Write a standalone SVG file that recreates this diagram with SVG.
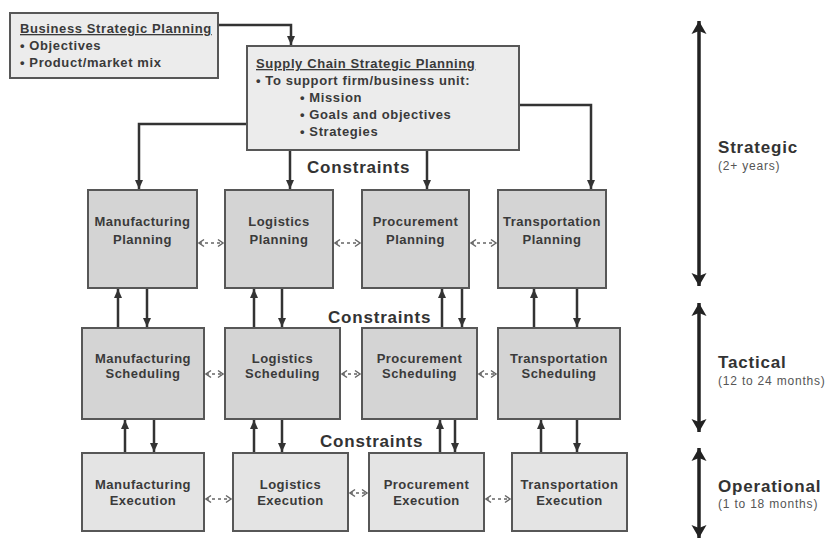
<svg xmlns="http://www.w3.org/2000/svg" width="830" height="538" viewBox="0 0 830 538">
  <style>
    .top { fill: #ececec; stroke: #575757; stroke-width: 2; }
    .plan { fill: #d4d4d4; stroke: #575757; stroke-width: 2; }
    .exec { fill: #e4e4e4; stroke: #575757; stroke-width: 2; }
    text { font-family: "Liberation Sans", Arial, sans-serif; font-weight: bold; fill: #3a3a3a; }
    .hd { font-size: 13px; letter-spacing: 0.6px; text-decoration: underline; }
    .bl { font-size: 13px; letter-spacing: 0.6px; }
    .nd { font-size: 13px; letter-spacing: 0.5px; text-anchor: middle; }
    .big { font-size: 17px; letter-spacing: 0.8px; fill: #333; }
    .sub { font-size: 12px; font-weight: normal; letter-spacing: 0.8px; fill: #555; }
    .link { fill: none; stroke: #333; stroke-width: 2.5; marker-end: url(#head); }
    .peer { fill: none; stroke: #666; stroke-width: 1.5; stroke-dasharray: 3 3; marker-start: url(#chevL); marker-end: url(#chevR); }
    .span { fill: none; stroke: #222; stroke-width: 3.5; marker-start: url(#bigL); marker-end: url(#bigR); }
  </style>
  <defs>
    <marker id="head" markerUnits="userSpaceOnUse" markerWidth="10" markerHeight="10" refX="9" refY="4.5" orient="auto">
      <path d="M0,0.5 L9,4.5 L0,8.5 Z" fill="#333"/>
    </marker>
    <marker id="chevR" markerUnits="userSpaceOnUse" markerWidth="8" markerHeight="10" refX="6" refY="5" orient="auto">
      <path d="M1,1.5 L6,5 L1,8.5" fill="none" stroke="#666" stroke-width="1.5"/>
    </marker>
    <marker id="chevL" markerUnits="userSpaceOnUse" markerWidth="8" markerHeight="10" refX="1" refY="5" orient="auto">
      <path d="M6,1.5 L1,5 L6,8.5" fill="none" stroke="#666" stroke-width="1.5"/>
    </marker>
    <marker id="bigR" markerUnits="userSpaceOnUse" markerWidth="14" markerHeight="16" refX="13" refY="7.5" orient="auto">
      <path d="M0,0 L13,7.5 L0,15 L3,7.5 Z" fill="#222"/>
    </marker>
    <marker id="bigL" markerUnits="userSpaceOnUse" markerWidth="14" markerHeight="16" refX="0" refY="7.5" orient="auto">
      <path d="M13,0 L0,7.5 L13,15 L10,7.5 Z" fill="#222"/>
    </marker>
  </defs>

  <!-- connectors -->
  <g id="connectors">
    <path class="link" d="M218,25 H291 V45"/>
    <path class="link" d="M247,124 H139 V189"/>
    <path class="link" d="M290,150 V189"/>
    <path class="link" d="M427,150 V189"/>
    <path class="link" d="M519,105 H591 V189"/>

    <!-- planning <-> scheduling -->
    <path class="link" d="M118,328 V289"/>
    <path class="link" d="M147,288 V327"/>
    <path class="link" d="M254,328 V289"/>
    <path class="link" d="M282,288 V327"/>
    <path class="link" d="M442,328 V289"/>
    <path class="link" d="M462,288 V327"/>
    <path class="link" d="M534,328 V289"/>
    <path class="link" d="M577,288 V327"/>

    <!-- scheduling <-> execution -->
    <path class="link" d="M125,453 V420"/>
    <path class="link" d="M154,419 V452"/>
    <path class="link" d="M254,453 V420"/>
    <path class="link" d="M282,419 V452"/>
    <path class="link" d="M440,453 V420"/>
    <path class="link" d="M455,419 V452"/>
    <path class="link" d="M541,453 V420"/>
    <path class="link" d="M577,419 V452"/>

    <!-- peer coordination -->
    <path class="peer" d="M199,243 H223"/>
    <path class="peer" d="M335,243 H360"/>
    <path class="peer" d="M471,243 H496"/>
    <path class="peer" d="M206,374 H223"/>
    <path class="peer" d="M342,374 H360"/>
    <path class="peer" d="M479,374 H496"/>
    <path class="peer" d="M206,499 H231"/>
    <path class="peer" d="M350,493 H367"/>
    <path class="peer" d="M486,499 H510"/>

    <!-- time horizons -->
    <path class="span" d="M699,21 V286"/>
    <path class="span" d="M699,303 V432"/>
    <path class="span" d="M699,448 V538"/>
  </g>

  <g id="business-strategic-planning">
    <rect class="top" x="10" y="13" width="208" height="65"/>
    <text class="hd" x="20" y="33">Business Strategic Planning</text>
    <text class="bl" x="20" y="50">• Objectives</text>
    <text class="bl" x="20" y="67">• Product/market mix</text>
  </g>

  <g id="supply-chain-strategic-planning">
    <rect class="top" x="247" y="46" width="272" height="104"/>
    <text class="hd" x="256" y="68">Supply Chain Strategic Planning</text>
    <text class="bl" x="256" y="85">• To support firm/business unit:</text>
    <text class="bl" x="300" y="102">•  Mission</text>
    <text class="bl" x="300" y="119">•  Goals and objectives</text>
    <text class="bl" x="300" y="136">•  Strategies</text>
  </g>

  <g id="constraints-labels">
    <text class="big" x="307" y="173">Constraints</text>
    <text class="big" x="328" y="323">Constraints</text>
    <text class="big" x="320" y="447">Constraints</text>
  </g>

  <!-- planning row -->
  <g id="manufacturing-planning">
    <rect class="plan" x="88" y="190" width="109" height="98"/>
    <text class="nd" x="142.5" y="226">Manufacturing</text>
    <text class="nd" x="142.5" y="244">Planning</text>
  </g>
  <g id="logistics-planning">
    <rect class="plan" x="225" y="190" width="108" height="98"/>
    <text class="nd" x="279" y="226">Logistics</text>
    <text class="nd" x="279" y="244">Planning</text>
  </g>
  <g id="procurement-planning">
    <rect class="plan" x="362" y="190" width="107" height="98"/>
    <text class="nd" x="415.5" y="226">Procurement</text>
    <text class="nd" x="415.5" y="244">Planning</text>
  </g>
  <g id="transportation-planning">
    <rect class="plan" x="498" y="190" width="108" height="98"/>
    <text class="nd" x="552" y="226">Transportation</text>
    <text class="nd" x="552" y="244">Planning</text>
  </g>

  <!-- scheduling row -->
  <g id="manufacturing-scheduling">
    <rect class="plan" x="82" y="328" width="122" height="91"/>
    <text class="nd" x="143" y="363">Manufacturing</text>
    <text class="nd" x="143" y="378">Scheduling</text>
  </g>
  <g id="logistics-scheduling">
    <rect class="plan" x="225" y="328" width="115" height="91"/>
    <text class="nd" x="282.5" y="363">Logistics</text>
    <text class="nd" x="282.5" y="378">Scheduling</text>
  </g>
  <g id="procurement-scheduling">
    <rect class="plan" x="362" y="328" width="115" height="91"/>
    <text class="nd" x="419.5" y="363">Procurement</text>
    <text class="nd" x="419.5" y="378">Scheduling</text>
  </g>
  <g id="transportation-scheduling">
    <rect class="plan" x="498" y="328" width="122" height="91"/>
    <text class="nd" x="559" y="363">Transportation</text>
    <text class="nd" x="559" y="378">Scheduling</text>
  </g>

  <!-- execution row -->
  <g id="manufacturing-execution">
    <rect class="exec" x="82" y="453" width="122" height="78"/>
    <text class="nd" x="143" y="489">Manufacturing</text>
    <text class="nd" x="143" y="505">Execution</text>
  </g>
  <g id="logistics-execution">
    <rect class="exec" x="233" y="453" width="115" height="78"/>
    <text class="nd" x="290.5" y="489">Logistics</text>
    <text class="nd" x="290.5" y="505">Execution</text>
  </g>
  <g id="procurement-execution">
    <rect class="exec" x="369" y="453" width="115" height="78"/>
    <text class="nd" x="426.5" y="489">Procurement</text>
    <text class="nd" x="426.5" y="505">Execution</text>
  </g>
  <g id="transportation-execution">
    <rect class="exec" x="512" y="453" width="115" height="78"/>
    <text class="nd" x="569.5" y="489">Transportation</text>
    <text class="nd" x="569.5" y="505">Execution</text>
  </g>

  <!-- time horizon labels -->
  <g id="horizon-labels">
    <text class="big" x="718" y="153">Strategic</text>
    <text class="sub" x="718" y="170">(2+ years)</text>
    <text class="big" x="718" y="368">Tactical</text>
    <text class="sub" x="718" y="385">(12 to 24 months)</text>
    <text class="big" x="718" y="492">Operational</text>
    <text class="sub" x="718" y="508">(1 to 18 months)</text>
  </g>
</svg>
